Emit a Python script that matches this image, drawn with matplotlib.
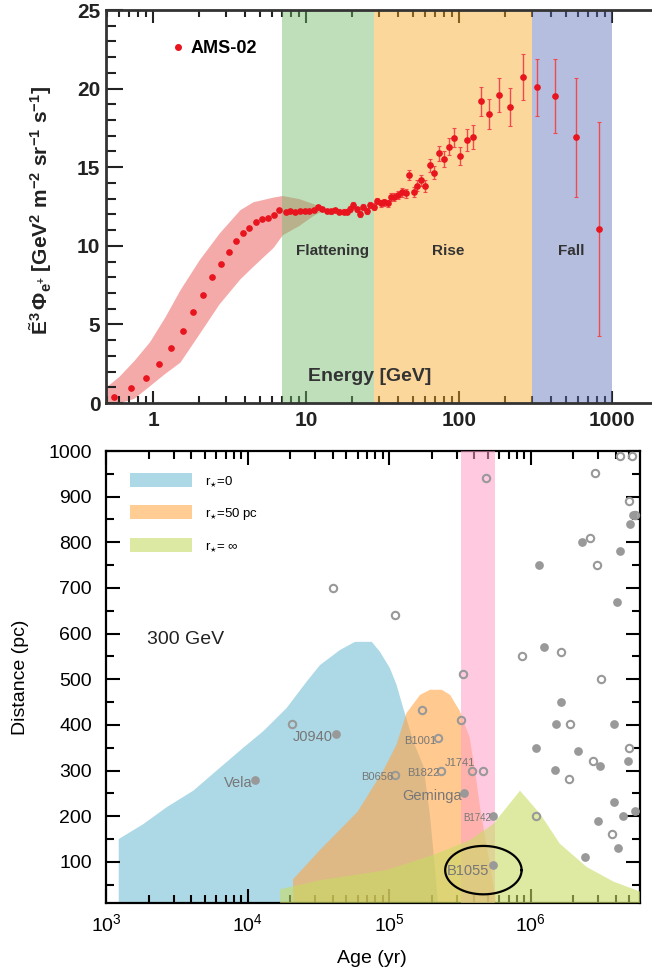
"""
Positron flux spectrum (AMS-02) and pulsar age/distance map at 300 GeV.
"""

import numpy as np
import matplotlib.pyplot as plt
from matplotlib.patches import Patch
from matplotlib.lines import Line2D
from matplotlib.ticker import LogLocator, NullFormatter, MultipleLocator

plt.rcParams['font.family'] = ['Liberation Sans', 'DejaVu Sans']
plt.rcParams['mathtext.fontset'] = 'custom'
plt.rcParams['mathtext.rm'] = 'Liberation Sans'
plt.rcParams['mathtext.it'] = 'Liberation Sans:italic'
plt.rcParams['mathtext.bf'] = 'Liberation Sans:bold'

# ---- upper panel data ----
ENERGY = [0.56, 0.72, 0.90, 1.09, 1.32, 1.56, 1.83, 2.11, 2.43, 2.77, 3.12, 3.49,
          3.86, 4.26, 4.71, 5.16, 5.65, 6.18, 6.70,
          7.37, 7.86, 8.45, 9.13, 9.85, 10.5, 11.3, 12.0, 12.8, 13.7, 14.5, 15.5,
          16.5, 17.6, 18.5, 19.4, 20.4, 21.4, 22.5, 23.7, 25.2, 26.1, 27.8,
          29.2, 30.8, 32.3, 34.2, 35.9, 37.8, 40.1, 42.6, 45.1, 47.4, 50.6, 53.4,
          56.8, 60.3, 64.6, 69.0, 73.7, 79.4, 86.0, 92.8, 102, 112, 124, 139,
          158, 183, 214, 261,
          325, 426, 585, 826]
FLUX = [0.40, 0.93, 1.60, 2.50, 3.50, 4.60, 5.80, 6.85, 8.00, 8.85, 9.60, 10.30,
        10.80, 11.15, 11.50, 11.70, 11.75, 11.95, 12.25,
        12.15, 12.21, 12.15, 12.19, 12.21, 12.19, 12.28, 12.45, 12.36, 12.21, 12.19, 12.28,
        12.17, 12.17, 12.17, 12.34, 12.60, 12.32, 12.02, 12.45, 12.21, 12.60, 12.49,
        12.85, 12.70, 12.77, 12.70, 13.12, 13.08, 13.23, 13.40, 13.34, 14.50, 13.44, 13.82,
        14.17, 13.82, 15.12, 14.65, 15.88, 15.52, 16.30, 16.88, 15.71, 16.73, 16.90, 19.20,
        18.37, 19.60, 18.85, 20.72,
        20.08, 19.55, 16.90, 11.05]
FLUX_ERR = [0.02, 0.02, 0.02, 0.03, 0.03, 0.03, 0.04, 0.04, 0.04, 0.05, 0.05, 0.05,
            0.06, 0.06, 0.06, 0.07, 0.07, 0.08, 0.08,
            0.10, 0.10, 0.10, 0.11, 0.11, 0.12, 0.12, 0.13, 0.13, 0.14, 0.14, 0.15,
            0.15, 0.16, 0.16, 0.17, 0.17, 0.18, 0.18, 0.19, 0.19, 0.20, 0.21,
            0.22, 0.22, 0.23, 0.24, 0.25, 0.26, 0.27, 0.28, 0.30, 0.32, 0.33, 0.35,
            0.36, 0.38, 0.40, 0.43, 0.47, 0.50, 0.55, 0.62, 0.58, 0.72, 0.76, 0.92,
            0.97, 1.07, 1.20, 1.46,
            1.82, 2.36, 3.78, 6.80]

# model uncertainty band
BAND_E = [0.49, 0.6, 0.75, 0.95, 1.2, 1.5, 2.0, 2.7, 3.7, 4.5, 6.1, 7.0, 9.0, 11.0, 13.0]
BAND_HI = [1.0, 1.7, 2.7, 3.9, 5.5, 7.2, 9.1, 10.8, 12.3, 12.8, 13.1, 13.2, 13.0, 12.7, 12.4]
BAND_LO = [0.0, 0.0, 0.3, 1.1, 1.9, 2.6, 4.4, 6.3, 7.9, 8.7, 9.9, 10.7, 11.3, 11.9, 12.3]

REGIONS = [(7, 28, 'Flattening', 15), (28, 300, 'Rise', 85), (300, 1000, 'Fall', 540)]
REGION_COLOURS = ['#6fba66', '#f9a821', '#5d6fba']

# ---- lower panel data ----
R0_AGE = [1230, 1230, 1840, 2690, 4140, 6050, 9330, 12900, 18900, 26200, 32500, 45000,
          57500, 75500, 86400, 101600, 113000, 126000, 150000, 175000, 195000, 215000, 222000]
R0_DIST = [10, 150, 183, 220, 256, 300, 350, 386, 437, 495, 531, 564,
           582, 582, 560, 524, 488, 437, 360, 310, 200, 60, 10]

R50_AGE = [21000, 21000, 32500, 60000, 91000, 113000, 133000, 166000, 195000, 236000,
           270000, 317000, 372000, 405000, 440000, 480000, 520000, 560000, 570000]
R50_DIST = [10, 62, 126, 210, 300, 357, 426, 466, 477, 477,
            466, 430, 372, 300, 220, 150, 90, 30, 10]

RINF_AGE = [17000, 17000, 32500, 96000, 217000, 373000, 546000, 843000,
            1.17e6, 1.61e6, 2.49e6, 3.85e6, 5.94e6, 5.94e6]
RINF_DIST = [10, 40, 60, 82, 118, 148, 183, 256,
             205, 140, 89, 57, 35, 10]

PINK_BAND = (321000, 561000)

FILLED_AGE = [11300, 42200, 340000, 543000, 543000, 1.14e6, 1.25e6, 2.3e6, 4.31e6, 4.06e6,
              5.05e6, 5.3e6, 1.64e6, 1.52e6, 3.91e6, 1.09e6, 2.18e6, 3.1e6, 4.9e6, 1.49e6,
              3.89e6, 2.98e6, 4.53e6, 5.47e6, 4.17e6, 2.43e6]
FILLED_DIST = [280, 380, 250, 201, 93, 750, 570, 800, 780, 670,
               840, 860, 450, 402, 402, 350, 342, 310, 321, 301,
               231, 190, 201, 212, 130, 111]

OPEN_AGE = [20500, 40400, 110000, 485000, 170000, 321000, 332000, 221000, 110000, 233000,
            388000, 459000, 875000, 1.63e6, 2.84e6, 4.29e6, 5.24e6, 4.95e6, 5.5e6, 2.63e6,
            2.95e6, 3.16e6, 1.9e6, 2.75e6, 4.97e6, 1.88e6, 1.09e6, 3.75e6]
OPEN_DIST = [401, 701, 641, 941, 432, 411, 511, 372, 290, 300,
             300, 300, 551, 560, 951, 990, 990, 891, 860, 810,
             750, 500, 402, 321, 350, 281, 201, 161]

PSR_NAMES = ['Vela', 'J0940', 'B0656', 'B1001', 'B1822', 'J1741', 'Geminga', 'B1742', 'B1055']
PSR_LABEL_AGE = [8570, 29000, 82200, 166000, 174000, 318000, 200000, 417000, 361000]
PSR_LABEL_DIST = [272, 373, 285, 364, 294, 316, 244, 196, 80]
PSR_LABEL_SIZE = [10.5, 10.5, 8, 8, 8, 8, 10.5, 7, 10.5]

RED = '#e8141e'
GREY = '#999999'


def draw_spectrum(ax):
    ax.fill_between(BAND_E, BAND_LO, BAND_HI, color='#f5aaaa', lw=0, zorder=1)
    for (lo, hi, name, xtext), colour in zip(REGIONS, REGION_COLOURS):
        ax.axvspan(lo, hi, color=colour, alpha=0.45, lw=0, zorder=2)
        ax.text(xtext, 9.7, name, ha='center', va='center', fontsize=11,
                fontweight='bold', color='#333333', zorder=5)

    ax.errorbar(ENERGY, FLUX, yerr=FLUX_ERR, fmt='o', ms=3.8, color=RED,
                ecolor='#ee4a4f', elinewidth=1, capsize=1.6, capthick=0.8, zorder=4)

    ax.text(26, 1.7, 'Energy [GeV]', ha='center', va='center', fontsize=14,
            fontweight='bold', color='#333333', zorder=5)

    ax.set_xscale('log')
    ax.set_xlim(0.493, 1824)
    ax.set_ylim(0, 25)
    ax.set_xticks([1, 10, 100, 1000])
    ax.set_xticklabels(['1', '10', '100', '1000'])
    ax.xaxis.set_minor_locator(LogLocator(base=10, subs=np.arange(2, 10)))
    ax.xaxis.set_minor_formatter(NullFormatter())
    ax.yaxis.set_major_locator(MultipleLocator(5))
    ax.yaxis.set_minor_locator(MultipleLocator(1))
    ax.tick_params(which='both', direction='in', top=True, right=False,
                   labelsize=15, width=1.5, color='#222222')
    ax.tick_params(axis='y', which='major', length=12, pad=4)
    ax.tick_params(axis='y', which='minor', length=7)
    ax.tick_params(axis='x', which='major', length=9, pad=6)
    ax.tick_params(axis='x', which='minor', length=5)
    for label in ax.get_xticklabels() + ax.get_yticklabels():
        label.set_fontweight('bold')
        label.set_color('#222222')
    for side in ('left', 'top', 'bottom'):
        ax.spines[side].set_linewidth(2)
        ax.spines[side].set_color('#333333')
    ax.spines['right'].set_visible(False)

    ax.set_ylabel(r'$\tilde{\mathbf{E}}^{\mathbf{3}}\,\mathbf{\Phi}_{\mathbf{e^{+}}}$'
                  r' [GeV$^{\mathbf{2}}$ m$^{\mathbf{-2}}$ sr$^{\mathbf{-1}}$ s$^{\mathbf{-1}}$]',
                  fontsize=15, fontweight='bold', color='#222222')
    ax.yaxis.set_label_coords(-0.095, 0.49)

    handle = Line2D([], [], ls='none', marker='o', ms=4, color=RED)
    ax.legend([handle], ['AMS-02'], loc='upper left', bbox_to_anchor=(0.119, 0.924),
              frameon=False, prop={'weight': 'bold', 'size': 13}, handlelength=0.8,
              handletextpad=0.3, borderpad=0, borderaxespad=0)


def draw_pulsars(ax):
    ax.fill(R0_AGE, R0_DIST, color='#add8e6', lw=0, zorder=1)
    ax.fill(R50_AGE, R50_DIST, color='#ffa546', alpha=0.6, lw=0, zorder=2)
    ax.axvspan(*PINK_BAND, color='#ff9fc6', alpha=0.55, lw=0, zorder=3)
    ax.fill(RINF_AGE, RINF_DIST, color='#c8dc64', alpha=0.6, lw=0, zorder=4)

    ax.plot(FILLED_AGE, FILLED_DIST, 'o', ms=6.3, color=GREY, mec='none', zorder=6,
            clip_on=False)
    ax.plot(OPEN_AGE, OPEN_DIST, 'o', ms=5.3, mfc='none', mec=GREY, mew=1.5, zorder=6,
            clip_on=False)
    for name, x, y, size in zip(PSR_NAMES, PSR_LABEL_AGE, PSR_LABEL_DIST, PSR_LABEL_SIZE):
        ax.text(x, y, name, ha='center', va='center', fontsize=size, color='#777777',
                zorder=7)

    # hand-drawn loop around B1055
    t = np.linspace(0, 2 * np.pi, 200)
    ax.plot(10 ** (5.667 + 0.27 * np.cos(t)), 82 + 53 * np.sin(t), color='black',
            lw=1.6, zorder=8)

    ax.text(0.077, 0.582, '300 GeV', transform=ax.transAxes, ha='left', va='center',
            fontsize=14, color='#222222')

    handles = [Patch(facecolor='#add8e6', edgecolor='none'),
               Patch(facecolor='#ffcd93', edgecolor='none'),
               Patch(facecolor='#dce9a2', edgecolor='none')]
    labels = [r'r$_{\star}$=0', r'r$_{\star}$=50 pc', r'r$_{\star}$= $\infty$']
    ax.legend(handles, labels, loc='upper left', bbox_to_anchor=(0.045, 0.951),
              frameon=False, fontsize=9.5, handlelength=4.7, handleheight=1.25,
              labelspacing=1.25, handletextpad=1.0, borderpad=0, borderaxespad=0)

    ax.set_xscale('log')
    ax.set_xlim(1000, 5.94e6)
    ax.set_ylim(10, 1000)
    ax.xaxis.set_major_locator(LogLocator(base=10))
    ax.xaxis.set_minor_locator(LogLocator(base=10, subs=np.arange(2, 10)))
    ax.xaxis.set_minor_formatter(NullFormatter())
    ax.set_yticks(np.arange(100, 1001, 100))
    ax.yaxis.set_minor_locator(MultipleLocator(50))
    ax.tick_params(which='both', direction='in', top=True, right=True, labelsize=14,
                   width=1.5)
    ax.tick_params(axis='y', which='major', length=10, pad=10)
    ax.tick_params(axis='y', which='minor', length=6)
    ax.tick_params(axis='x', which='major', length=10, pad=7)
    ax.tick_params(axis='x', which='minor', length=6)
    for spine in ax.spines.values():
        spine.set_linewidth(1.6)

    ax.set_xlabel('Age (yr)', fontsize=14)
    ax.set_ylabel('Distance (pc)', fontsize=14)
    ax.xaxis.set_label_coords(0.498, -0.105)
    ax.yaxis.set_label_coords(-0.145, 0.5)


def main() -> None:
    fig = plt.figure(figsize=(6.52, 9.69), dpi=100)
    ax1 = fig.add_axes([106 / 652, 1 - 403 / 969, 546 / 652, 393 / 969])
    ax2 = fig.add_axes([106 / 652, 1 - 903 / 969, 534 / 652, 452 / 969])
    draw_spectrum(ax1)
    draw_pulsars(ax2)
    fig.savefig('out.png', dpi=100)


if __name__ == '__main__':
    main()
